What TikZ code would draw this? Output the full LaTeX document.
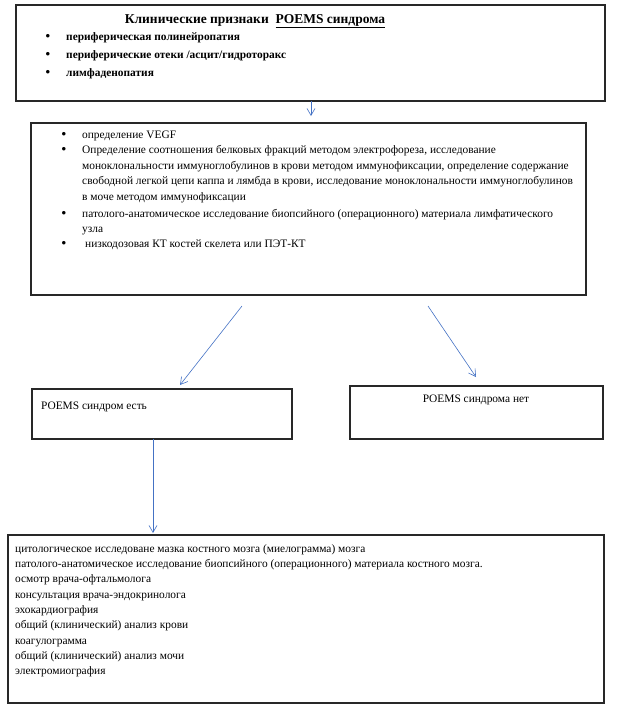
\documentclass[tikz,border=0pt]{standalone}
\usepackage{fontspec}
\setmainfont{Liberation Serif}
\usetikzlibrary{arrows.meta}
\definecolor{arr}{RGB}{68,114,196}
\definecolor{frame}{RGB}{40,40,40}
\tikzset{
  box/.style={draw=frame,line width=1.1pt},
  conn/.style={draw=arr,line width=0.6pt,-{Straight Barb[length=7pt,width=8pt,line width=0.6pt]}},
  txt/.style={anchor=base west,inner sep=0pt,font=\fontsize{11.4}{13}\selectfont},
  btxt/.style={anchor=base west,inner sep=0pt,font=\fontsize{11.4}{13}\selectfont\bfseries},
  bul/.style={anchor=base,inner sep=0pt,font=\fontsize{13}{14}\selectfont\bfseries}
}
\begin{document}
\begin{tikzpicture}[x=1pt,y=-1pt]
\useasboundingbox (0,0) rectangle (621,705);
% boxes
\draw[box] (16,5) rectangle (605,101);
\coordinate (b1s) at (311,101);
\coordinate (b2n) at (311,116);
\draw[box] (31,123) rectangle (586,295);
\draw[box] (32,389) rectangle (292,439);
\draw[box] (350,386) rectangle (603,439);
\draw[box] (8,535) rectangle (604,703);
% box 1
\node[anchor=base,inner sep=0pt,font=\fontsize{13.5}{15}\selectfont\bfseries] (t1) at (255,23) {Клинические признаки\ \ \underline{POEMS синдрома}};
\node[bul] (bu1) at (48,40) {•};
\node[btxt] (l1) at (66,40) {периферическая полинейропатия};
\node[bul] (bu2) at (48,58) {•};
\node[btxt] (l2) at (66,58) {периферические отеки /асцит/гидроторакс};
\node[bul] (bu3) at (48,76) {•};
\node[btxt] (l3) at (66,76) {лимфаденопатия};
% box 2
\node[bul] (c1) at (64,138) {•};
\node[txt] (m1) at (82,138) {определение VEGF};
\node[bul] (c2) at (64,153) {•};
\node[txt] (m2) at (82,153) {Определение соотношения белковых фракций методом электрофореза, исследование};
\node[txt] (m3) at (82,169) {моноклональности иммуноглобулинов в крови методом иммунофиксации, определение содержание};
\node[txt] (m4) at (82,184) {свободной легкой цепи каппа и лямбда в крови, исследование моноклональности иммуноглобулинов};
\node[txt] (m5) at (82,200) {в моче методом иммунофиксации};
\node[bul] (c3) at (64,217) {•};
\node[txt] (m6) at (82,217) {патолого-анатомическое исследование биопсийного (операционного) материала лимфатического};
\node[txt] (m7) at (82,232) {узла};
\node[bul] (c4) at (64,247) {•};
\node[txt] (m8) at (85,247) {низкодозовая КТ костей скелета или ПЭТ-КТ};
% box 3/4
\node[txt] (y1) at (41,409) {POEMS синдром есть};
\node[anchor=base,inner sep=0pt,font=\fontsize{11.4}{13}\selectfont] (n1) at (476,402) {POEMS синдрома нет};
% box 5
\node[txt] (r1) at (15,552) {цитологическое исследоване мазка костного мозга (миелограмма) мозга};
\node[txt] (r2) at (15,567) {патолого-анатомическое исследование биопсийного (операционного) материала костного мозга.};
\node[txt] (r3) at (15,582) {осмотр врача-офтальмолога};
\node[txt] (r4) at (15,598) {консультация врача-эндокринолога};
\node[txt] (r5) at (15,613) {эхокардиография};
\node[txt] (r6) at (15,628) {общий (клинический) анализ крови};
\node[txt] (r7) at (15,644) {коагулограмма};
\node[txt] (r8) at (15,659) {общий (клинический) анализ мочи};
\node[txt] (r9) at (15,674) {электромиография};
% connectors
\coordinate (a1s) at (242,306);
\coordinate (a1e) at (180,385);
\coordinate (a2s) at (428,306);
\coordinate (a2e) at (476,377);
\coordinate (a3s) at (153,439);
\coordinate (a3e) at (153,533);
\draw[conn] (b1s) -- (b2n);
\draw[conn] (a1s) -- (a1e);
\draw[conn] (a2s) -- (a2e);
\draw[conn] (a3s) -- (a3e);
\end{tikzpicture}
\end{document}
